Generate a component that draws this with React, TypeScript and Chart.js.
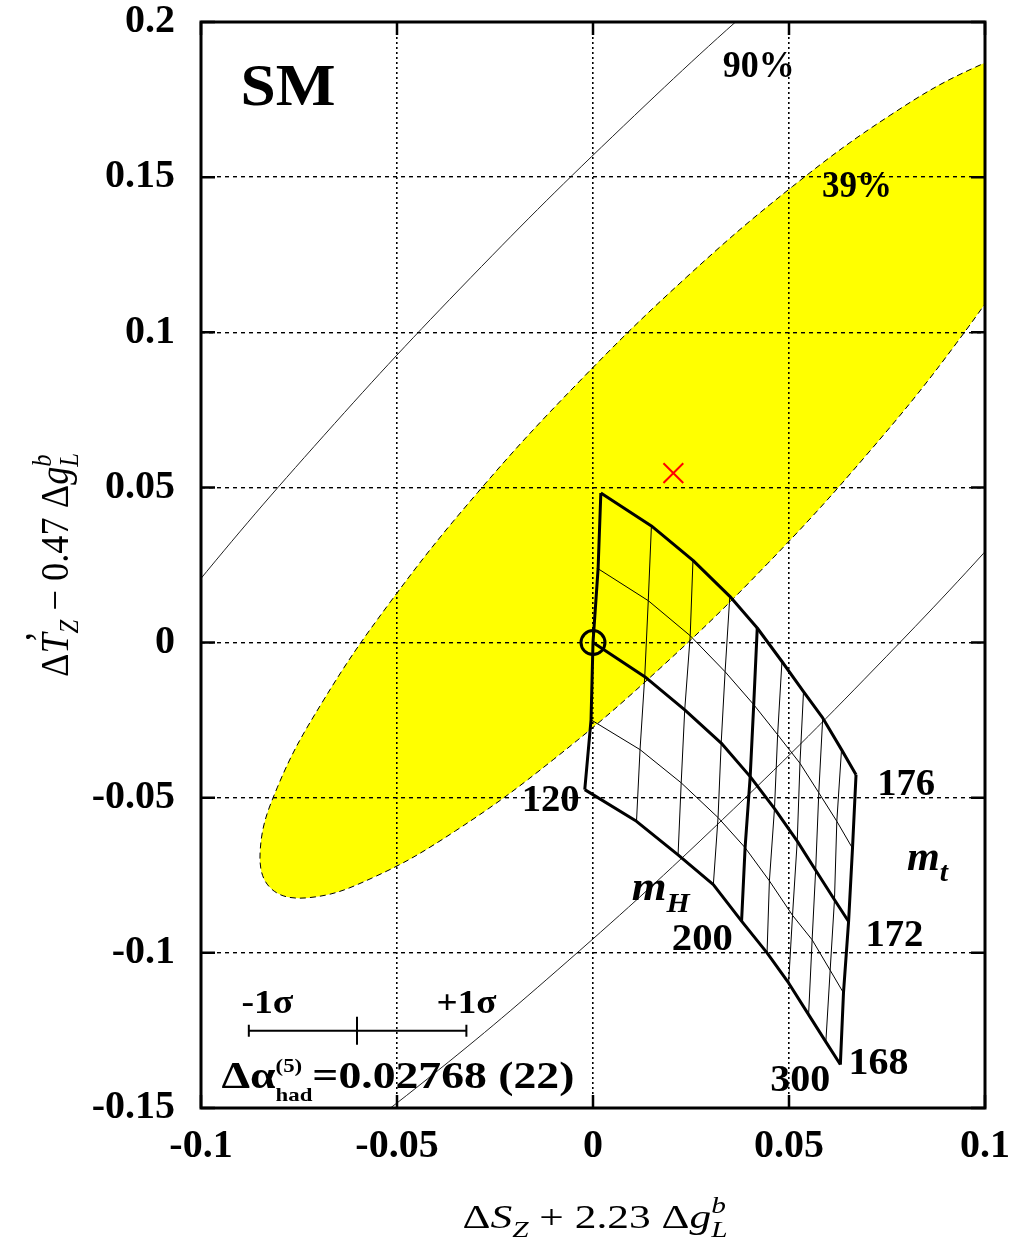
import React, { useEffect, useRef } from "react";
import { Chart, registerables } from "chart.js";

Chart.register(...registerables);

const FONT = "'Liberation Serif', 'Times New Roman', serif";

// Axis ticks
const xTickValues = [-0.1, -0.05, 0, 0.05, 0.1];
const xTickLabels = ["-0.1", "-0.05", "0", "0.05", "0.1"];
const yTickValues = [-0.15, -0.1, -0.05, 0, 0.05, 0.1, 0.15, 0.2];
const yTickLabels = ["-0.15", "-0.1", "-0.05", "0", "0.05", "0.1", "0.15", "0.2"];

// SM prediction grid: Higgs masses (columns) and top masses (rows)
const mHValues = [120, 140, 160, 180, 200, 220, 240, 260, 280, 300];
const mtValues = [168, 170, 172, 174, 176];

const gridX176 = [0.002, 0.0149, 0.0255, 0.0349, 0.0419, 0.0482, 0.0537, 0.0586, 0.0634, 0.0671];
const gridY176 = [0.0482, 0.0376, 0.0265, 0.0149, 0.0047, -0.0061, -0.0158, -0.0243, -0.0345, -0.0426];
const gridX174 = [0.0013, 0.0141, 0.0248, 0.0337, 0.041, 0.0471, 0.0528, 0.0576, 0.0622, 0.0662];
const gridY174 = [0.0238, 0.0135, 0.0022, -0.0094, -0.02, -0.0297, -0.0389, -0.0484, -0.0576, -0.0663];
const gridX172 = [0.0, 0.0132, 0.0234, 0.0327, 0.0401, 0.0463, 0.0521, 0.0568, 0.0616, 0.0652];
const gridY172 = [0.0, -0.011, -0.0217, -0.0324, -0.0432, -0.0535, -0.064, -0.0734, -0.0829, -0.0899];
const gridX170 = [-0.0005, 0.012, 0.0225, 0.0319, 0.0388, 0.045, 0.0509, 0.0559, 0.0605, 0.0639];
const gridY170 = [-0.0249, -0.0345, -0.0452, -0.0564, -0.0661, -0.0768, -0.0879, -0.0958, -0.1056, -0.1129];
const gridX168 = [-0.0021, 0.0111, 0.0217, 0.0307, 0.0379, 0.0444, 0.0499, 0.055, 0.0594, 0.0631];
const gridY168 = [-0.0474, -0.0576, -0.0684, -0.078, -0.0898, -0.1, -0.1097, -0.1199, -0.1287, -0.136];

// 39% CL contour (filled)
const ellipse39X = [0.123, 0.1258, 0.1213, 0.11, 0.0926, 0.0702, 0.0445, 0.0171, -0.01, -0.0351, -0.0564, -0.0724, -0.0822, -0.0849, -0.0805, -0.0691, -0.0517, -0.0294, -0.0036, 0.0238, 0.0509, 0.076, 0.0973, 0.1133, 0.123];
const ellipse39Y = [0.1886, 0.1764, 0.156, 0.1287, 0.0963, 0.0611, 0.0254, -0.0083, -0.0376, -0.0607, -0.0759, -0.0822, -0.0792, -0.067, -0.0466, -0.0193, 0.0131, 0.0484, 0.084, 0.1177, 0.147, 0.1701, 0.1853, 0.1916, 0.1886];

// 90% CL contour (two visible arcs)
const c90UpperX = [-0.1343, -0.1033, -0.0686, -0.0312, 0.0078, 0.0472, 0.0858];
const c90UpperY = [-0.0344, 0.0156, 0.0668, 0.1176, 0.1665, 0.2121, 0.2528];
const c90LowerX = [0.1442, 0.1095, 0.072, 0.033, -0.0064, -0.045, -0.0816];
const c90LowerY = [0.0938, 0.0426, -0.0082, -0.0571, -0.1026, -0.1434, -0.1781];

// Reference points
const smPointX = [0];
const smPointY = [0];
const fitPointX = [0.0205];
const fitPointY = [0.0546];

// ±1σ bar for Δα_had
const sigmaBarX = [-0.0878, -0.0602, -0.0323];
const sigmaBarY = [-0.1251, -0.1251, -0.1251];

type Run = { t: string; size: number; italic?: boolean; bold?: boolean; dy?: number; dx?: number; stack?: boolean };

function runFont(r: Run, bold: boolean) {
  const b = r.bold !== undefined ? r.bold : bold;
  return `${r.italic ? "italic " : ""}${b ? "bold " : ""}${r.size}px ${FONT}`;
}

function measureRuns(ctx: CanvasRenderingContext2D, runs: Run[], bold: boolean) {
  let w = 0;
  let pending = 0;
  for (const r of runs) {
    ctx.font = runFont(r, bold);
    const rw = ctx.measureText(r.t).width;
    if (r.stack) {
      pending = Math.max(pending, rw);
      continue;
    }
    w += Math.max(pending, rw);
    pending = 0;
  }
  return w + pending;
}

function drawRuns(
  ctx: CanvasRenderingContext2D,
  runs: Run[],
  x: number,
  y: number,
  opts: { bold?: boolean; width?: number; rotate?: boolean; cross?: number; center?: boolean }
) {
  const bold = opts.bold !== undefined ? opts.bold : true;
  const natural = measureRuns(ctx, runs, bold);
  const s = opts.width ? opts.width / natural : 1;
  const total = natural * s;
  ctx.save();
  ctx.translate(x, y);
  if (opts.rotate) ctx.rotate(-Math.PI / 2);
  if (opts.center) ctx.translate(-total / 2, 0);
  ctx.scale(s, opts.cross || 1);
  ctx.fillStyle = "#000";
  ctx.textBaseline = "alphabetic";
  ctx.textAlign = "left";
  let cx = 0;
  let pending = 0;
  for (const r of runs) {
    ctx.font = runFont(r, bold);
    const rw = ctx.measureText(r.t).width;
    ctx.fillText(r.t, cx + (r.dx || 0), r.dy || 0);
    if (r.stack) {
      pending = Math.max(pending, rw);
      continue;
    }
    cx += Math.max(pending, rw);
    pending = 0;
  }
  ctx.restore();
}

// Text annotations anchored in data coordinates (left, baseline)
const annotations: { x: number; y: number; width?: number; runs: Run[] }[] = [
  { x: -0.0899, y: 0.1733, width: 95, runs: [{ t: "SM", size: 60 }] },
  { x: 0.0331, y: 0.1824, width: 72, runs: [{ t: "90%", size: 37 }] },
  { x: 0.0584, y: 0.1437, width: 70, runs: [{ t: "39%", size: 37 }] },
  { x: -0.0182, y: -0.0544, width: 58, runs: [{ t: "120", size: 37 }] },
  { x: 0.0725, y: -0.049, width: 58, runs: [{ t: "176", size: 37 }] },
  { x: 0.0695, y: -0.0979, width: 58, runs: [{ t: "172", size: 37 }] },
  { x: 0.0652, y: -0.1392, width: 60, runs: [{ t: "168", size: 37 }] },
  { x: 0.0201, y: -0.099, width: 61, runs: [{ t: "200", size: 37 }] },
  { x: 0.0452, y: -0.1446, width: 60, runs: [{ t: "300", size: 37 }] },
  { x: 0.0099, y: -0.0829, width: 58, runs: [{ t: "m", size: 42, italic: true }, { t: "H", size: 28, italic: true, dy: 12 }] },
  { x: 0.0801, y: -0.0732, width: 41, runs: [{ t: "m", size: 40, italic: true }, { t: "t", size: 28, italic: true, dy: 11 }] },
  { x: -0.0897, y: -0.1193, width: 52, runs: [{ t: "-1σ", size: 34 }] },
  { x: -0.0399, y: -0.1193, width: 60, runs: [{ t: "+1σ", size: 34 }] },
  {
    x: -0.0948,
    y: -0.1435,
    width: 353,
    runs: [
      { t: "Δα", size: 38 },
      { t: "(5)", size: 19, dy: -16, stack: true },
      { t: "had", size: 19, dy: 13 },
      { t: "=0.02768 (22)", size: 38 },
    ],
  },
];

const xTitleRuns: Run[] = [
  { t: "Δ", size: 34 },
  { t: "S", size: 34, italic: true },
  { t: "Z", size: 23, italic: true, dy: 9 },
  { t: " + 2.23 Δ", size: 34 },
  { t: "g", size: 34, italic: true },
  { t: "b", size: 23, italic: true, dy: -15, stack: true },
  { t: "L", size: 23, italic: true, dy: 9 },
];

const yTitleRuns: Run[] = [
  { t: "Δ", size: 34 },
  { t: "T", size: 34, italic: true },
  { t: "’", size: 34, dy: -14, dx: -9, stack: true },
  { t: "Z", size: 23, italic: true, dy: 9 },
  { t: " − 0.47 Δ", size: 34 },
  { t: "g", size: 34, italic: true },
  { t: "b", size: 23, italic: true, dy: -15, stack: true },
  { t: "L", size: 23, italic: true, dy: 9 },
];

const framePlugin = {
  id: "frameAndText",
  afterDraw(chart: any) {
    const { ctx, chartArea: a, scales } = chart;
    const xs = scales.x;
    const ys = scales.y;
    ctx.save();
    ctx.strokeStyle = "#000";
    ctx.lineWidth = 2.5;
    ctx.beginPath();
    for (const t of xs.ticks) {
      const p = xs.getPixelForValue(t.value);
      ctx.moveTo(p, a.bottom);
      ctx.lineTo(p, a.bottom - 13);
      ctx.moveTo(p, a.top);
      ctx.lineTo(p, a.top + 13);
    }
    for (const t of ys.ticks) {
      const p = ys.getPixelForValue(t.value);
      ctx.moveTo(a.left, p);
      ctx.lineTo(a.left + 14, p);
      ctx.moveTo(a.right, p);
      ctx.lineTo(a.right - 14, p);
    }
    ctx.stroke();
    ctx.lineWidth = 3;
    ctx.strokeRect(a.left, a.top, a.right - a.left, a.bottom - a.top);
    ctx.restore();

    for (const n of annotations) {
      drawRuns(ctx, n.runs, xs.getPixelForValue(n.x), ys.getPixelForValue(n.y), { width: n.width });
    }
    const cxMid = (a.left + a.right) / 2;
    const cyMid = (a.top + a.bottom) / 2;
    drawRuns(ctx, xTitleRuns, cxMid + 2, a.bottom + 120, { bold: false, width: 265, center: true });
    drawRuns(ctx, yTitleRuns, a.left - 133, cyMid, { bold: false, width: 224, rotate: true, center: true, cross: 1.15 });
  },
};

function pts(xs: number[], ys: number[]) {
  return xs.map((x, i) => ({ x, y: ys[i] }));
}

export default function App() {
  const ref = useRef<HTMLCanvasElement | null>(null);

  useEffect(() => {
    if (!ref.current) return;
    const rows = [
      { mt: 176, x: gridX176, y: gridY176 },
      { mt: 174, x: gridX174, y: gridY174 },
      { mt: 172, x: gridX172, y: gridY172 },
      { mt: 170, x: gridX170, y: gridY170 },
      { mt: 168, x: gridX168, y: gridY168 },
    ];
    const thickMt = [168, 172, 176];
    const thickMH = [120, 200, 300];
    const datasets: any[] = [];

    datasets.push({
      label: "39% CL",
      data: pts(ellipse39X, ellipse39Y),
      showLine: true,
      fill: "shape",
      backgroundColor: "#ffff00",
      borderColor: "#000",
      borderWidth: 1,
      borderDash: [6, 4],
      tension: 0.4,
      capBezierPoints: false,
      pointRadius: 0,
      clip: 0,
      order: 10,
    });
    for (const [xa, ya] of [
      [c90UpperX, c90UpperY],
      [c90LowerX, c90LowerY],
    ]) {
      datasets.push({
        label: "90% CL",
        data: pts(xa, ya),
        showLine: true,
        fill: false,
        borderColor: "#222",
        borderWidth: 1,
        tension: 0.4,
        capBezierPoints: false,
        pointRadius: 0,
        clip: 0,
        order: 9,
      });
    }
    for (const r of rows) {
      datasets.push({
        label: `mt ${r.mt}`,
        data: pts(r.x, r.y),
        showLine: true,
        fill: false,
        borderColor: "#000",
        borderWidth: thickMt.includes(r.mt) ? 3 : 1,
        borderJoinStyle: "round",
        tension: 0,
        pointRadius: 0,
        order: 5,
      });
    }
    mHValues.forEach((mH, i) => {
      const cx = rows.map((r) => r.x[i]).reverse();
      const cy = rows.map((r) => r.y[i]).reverse();
      datasets.push({
        label: `mH ${mH}`,
        data: pts(cx, cy),
        showLine: true,
        fill: false,
        borderColor: "#000",
        borderWidth: thickMH.includes(mH) ? 3 : 1,
        tension: 0,
        pointRadius: 0,
        order: 5,
      });
    });
    datasets.push({
      label: "SM reference",
      data: pts(smPointX, smPointY),
      showLine: false,
      pointStyle: "circle",
      pointRadius: 12,
      pointBorderWidth: 3,
      pointBorderColor: "#000",
      pointBackgroundColor: "rgba(0,0,0,0)",
      order: 1,
    });
    datasets.push({
      label: "Best fit",
      data: pts(fitPointX, fitPointY),
      showLine: false,
      pointStyle: "crossRot",
      pointRadius: 14,
      pointBorderWidth: 2,
      pointBorderColor: "#ff0000",
      order: 1,
    });
    datasets.push({
      label: "sigma bar",
      data: pts(sigmaBarX, sigmaBarY),
      showLine: true,
      fill: false,
      borderColor: "#000",
      borderWidth: 2,
      pointStyle: "line",
      pointRotation: 90,
      pointRadius: [6, 14, 6],
      pointBorderWidth: 2,
      pointBorderColor: "#000",
      order: 1,
    });

    const tickFont = { family: FONT, size: 40, weight: "bold" as const };

    const chart = new Chart(ref.current, {
      type: "scatter",
      data: { datasets },
      options: {
        animation: false,
        responsive: false,
        devicePixelRatio: 1,
        layout: { padding: { top: 22, right: 47, left: 0, bottom: 0 } },
        plugins: { legend: { display: false }, tooltip: { enabled: false } },
        scales: {
          x: {
            type: "linear",
            min: -0.1,
            max: 0.1,
            afterBuildTicks: (s: any) => {
              s.ticks = xTickValues.map((v) => ({ value: v }));
            },
            afterFit: (s: any) => {
              s.height = 134;
              s.paddingLeft = 0;
              s.paddingRight = 0;
            },
            ticks: {
              autoSkip: false,
              maxRotation: 0,
              minRotation: 0,
              padding: 15,
              color: "#000",
              font: tickFont,
              callback: (_v: any, i: number) => xTickLabels[i],
            },
            grid: { z: 1, color: "#000", lineWidth: 1.6, drawTicks: false },
            border: { display: false, dash: [2, 3] },
          },
          y: {
            type: "linear",
            min: -0.15,
            max: 0.2,
            afterBuildTicks: (s: any) => {
              s.ticks = yTickValues.map((v) => ({ value: v }));
            },
            afterFit: (s: any) => {
              s.width = 201;
              s.paddingTop = 0;
              s.paddingBottom = 0;
            },
            ticks: {
              autoSkip: false,
              padding: 26,
              color: "#000",
              font: tickFont,
              callback: (_v: any, i: number) => yTickLabels[i],
            },
            grid: { z: 1, color: "#000", lineWidth: 1.4, drawTicks: false },
            border: { display: false, dash: [4, 4] },
          },
        },
      },
      plugins: [framePlugin],
    } as any);
    return () => chart.destroy();
  }, []);

  return (
    <div style={{ position: "absolute", left: 0, top: 0, width: 1032, height: 1242, background: "#fff" }}>
      <canvas ref={ref} width={1032} height={1242} style={{ display: "block" }} />
    </div>
  );
}
